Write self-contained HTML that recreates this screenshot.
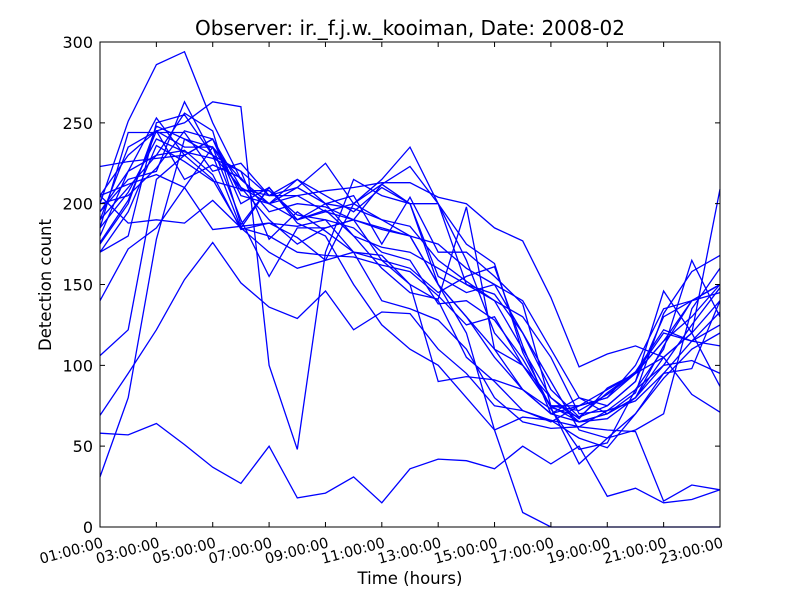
<!DOCTYPE html>
<html><head><meta charset="utf-8"><style>
body{margin:0;background:#fff;}
svg{display:block;font-family:"DejaVu Sans","Liberation Sans",sans-serif;}
</style></head><body>
<svg id="chart" width="800" height="600">
<rect width="800" height="600" fill="#fff"/>
<text x="410" y="35" font-size="20" text-anchor="middle">Observer: ir._f.j.w._kooiman, Date: 2008-02</text>
<g id="lines"></g>
<rect x="100" y="42" width="620" height="485" fill="none" stroke="#000" stroke-width="1"/>
<g id="axes"></g>
<text x="410" y="584" font-size="16.5" text-anchor="middle">Time (hours)</text>
<text transform="translate(51,285) rotate(-90)" font-size="16.5" text-anchor="middle">Detection count</text>
</svg>
<script>
const hours = [1,2,3,4,5,6,7,8,9,10,11,12,13,14,15,16,17,18,19,20,21,22,23];
const yTicks = [0,50,100,150,200,250,300];
const xTickHours = [1,3,5,7,9,11,13,15,17,19,21,23];
const xTickLabels = ["01:00:00","03:00:00","05:00:00","07:00:00","09:00:00","11:00:00","13:00:00","15:00:00","17:00:00","19:00:00","21:00:00","23:00:00"];
const s1 = [58,57,64,51,37,27,50,18,21,31,15,36,42,41,36,50,39,50,19,24,15,17,23];
const s2 = [31,80,178,240,235,215,200,205,195,190,185,180,150,120,60,9,0,0,0,0,0,0,0];
const s3 = [205,230,245,250,263,260,100,48,170,215,205,200,150,130,110,85,70,80,70,80,105,120,140];
const s4 = [69,95,122,153,176,151,136,129,146,122,133,132,110,95,75,72,66,55,49,70,95,98,140];
const s5 = [106,122,215,230,240,210,190,175,185,190,165,150,140,105,90,72,65,75,80,95,120,115,112];
const s6 = [200,251,286,294,250,215,200,190,195,200,190,180,175,160,150,140,110,80,75,90,130,140,150];
const s7 = [223,226,228,230,240,205,200,215,205,195,210,200,200,150,140,130,105,70,72,85,110,165,130];
const s8 = [140,172,185,210,235,190,155,185,185,190,212,200,155,145,150,120,90,60,55,60,70,135,160];
const s9 = [170,180,250,255,230,185,170,160,165,200,215,235,200,165,120,100,80,65,70,80,100,125,148];
const s10 = [185,244,244,244,220,225,205,205,208,210,213,213,204,200,185,177,142,99,107,112,105,82,71];
const s11 = [180,220,253,230,215,185,210,190,200,205,175,204,170,170,155,138,75,72,82,95,105,120,209];
const s12 = [175,200,248,240,230,210,200,210,225,200,212,223,200,175,163,108,74,68,75,90,146,120,87];
const s13 = [176,202,245,235,235,208,208,193,190,170,165,160,145,155,161,112,70,65,70,83,132,158,168];
const s14 = [195,220,230,256,245,187,210,190,196,180,160,145,141,198,110,100,75,75,80,100,135,140,150];
const s15 = [205,188,190,188,202,185,180,170,168,167,162,158,143,125,130,100,75,65,67,80,112,140,145];
const s16 = [190,235,245,215,224,216,195,200,198,190,184,180,150,130,105,85,70,75,85,95,115,130,150];
const s17 = [205,212,218,210,184,186,188,179,165,170,168,150,90,93,91,85,73,48,52,85,100,103,95];
const s18 = [195,215,220,263,230,220,178,195,183,170,140,135,128,110,80,65,61,62,72,78,95,115,133];
const s19 = [200,205,222,245,240,200,210,188,180,150,125,110,100,80,60,68,66,62,60,59,16,26,23];
const s20 = [170,195,236,226,214,209,205,210,200,197,190,186,165,152,140,110,80,67,86,95,115,140,150];
const s21 = [185,207,240,232,228,220,205,215,200,180,173,170,160,150,144,120,85,68,83,96,122,115,125];
const s22 = [190,210,230,233,218,184,188,186,190,185,170,165,138,140,128,104,74,39,55,70,92,110,120];
const series = [s1,s2,s3,s4,s5,s6,s7,s8,s9,s10,s11,s12,s13,s14,s15,s16,s17,s18,s19,s20,s21,s22];

const NS = "http://www.w3.org/2000/svg";
const X0=100, X1=720, Y0=527, Y1=42;
function xScale(h){ return X0 + (h-1)/(23-1)*(X1-X0); }
function yScale(v){ return Y0 - v/300*(Y0-Y1); }

const lg = document.getElementById('lines');
series.forEach((s,i)=>{
  const p = document.createElementNS(NS,'polyline');
  p.setAttribute('points', s.map((v,j)=>xScale(hours[j]).toFixed(1)+','+yScale(v).toFixed(1)).join(' '));
  p.setAttribute('fill','none');
  p.setAttribute('stroke','#0000ff');
  p.setAttribute('stroke-width','1.3');
  
  
  lg.appendChild(p);
});

const ax = document.getElementById('axes');
yTicks.forEach(t=>{
  const y = yScale(t);
  const tk = document.createElementNS(NS,'path');
  tk.setAttribute('d', `M${X0},${y}h5M${X1},${y}h-5`);
  tk.setAttribute('stroke','#000');
  
  
  ax.appendChild(tk);
  const tx = document.createElementNS(NS,'text');
  tx.setAttribute('x', X0-7); tx.setAttribute('y', y+6);
  tx.setAttribute('font-size','16'); tx.setAttribute('text-anchor','end');
  tx.textContent = t;
  
  
  ax.appendChild(tx);
});
xTickHours.forEach((h,i)=>{
  const x = xScale(h);
  const tk = document.createElementNS(NS,'path');
  tk.setAttribute('d', `M${x},${Y0}v-5M${x},${Y1}v5`);
  tk.setAttribute('stroke','#000');
  
  
  ax.appendChild(tk);
  const tx = document.createElementNS(NS,'text');
  tx.setAttribute('transform', `translate(${x+4},${Y0+20}) rotate(-15)`);
  tx.setAttribute('font-size','14.5'); tx.setAttribute('text-anchor','end');
  tx.textContent = xTickLabels[i];
  
  
  ax.appendChild(tx);
});
</script>
</body></html>
